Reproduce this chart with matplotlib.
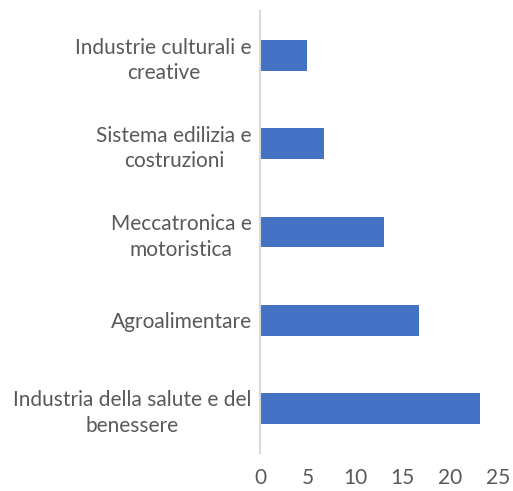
import matplotlib.pyplot as plt

# categories from bottom to top
categories = [
    "Industria della salute e del\nbenessere",
    "Agroalimentare",
    "Meccatronica e\nmotoristica",
    "Sistema edilizia e\ncostruzioni",
    "Industrie culturali e\ncreative",
]
values = [23.1, 16.7, 13.0, 6.75, 4.95]
xticks = [0, 5, 10, 15, 20, 25]

plt.rcParams['font.family'] = ['Lato', 'DejaVu Sans']

fig = plt.figure(figsize=(5.13, 4.91), dpi=100)
ax = fig.add_axes([0.5068, 0.0784, 0.4640, 0.8982])

ax.barh(range(len(categories)), values, height=0.35, color='#4472C4')
ax.set_ylim(-0.5, len(categories) - 0.5)
ax.set_xlim(0, 25)
ax.set_xticks(xticks)
ax.set_yticks(range(len(categories)))
ax.set_yticklabels(categories, multialignment='center', linespacing=1.35)

for s in ['top', 'right', 'bottom']:
    ax.spines[s].set_visible(False)
ax.spines['left'].set_color('#d9d9d9')
ax.spines['left'].set_linewidth(1.5)

ax.tick_params(axis='x', length=0, pad=11, labelsize=15, labelcolor='#595959')
ax.tick_params(axis='y', length=0, pad=6, labelsize=15, labelcolor='#595959')

fig.savefig('out.png', dpi=100)
